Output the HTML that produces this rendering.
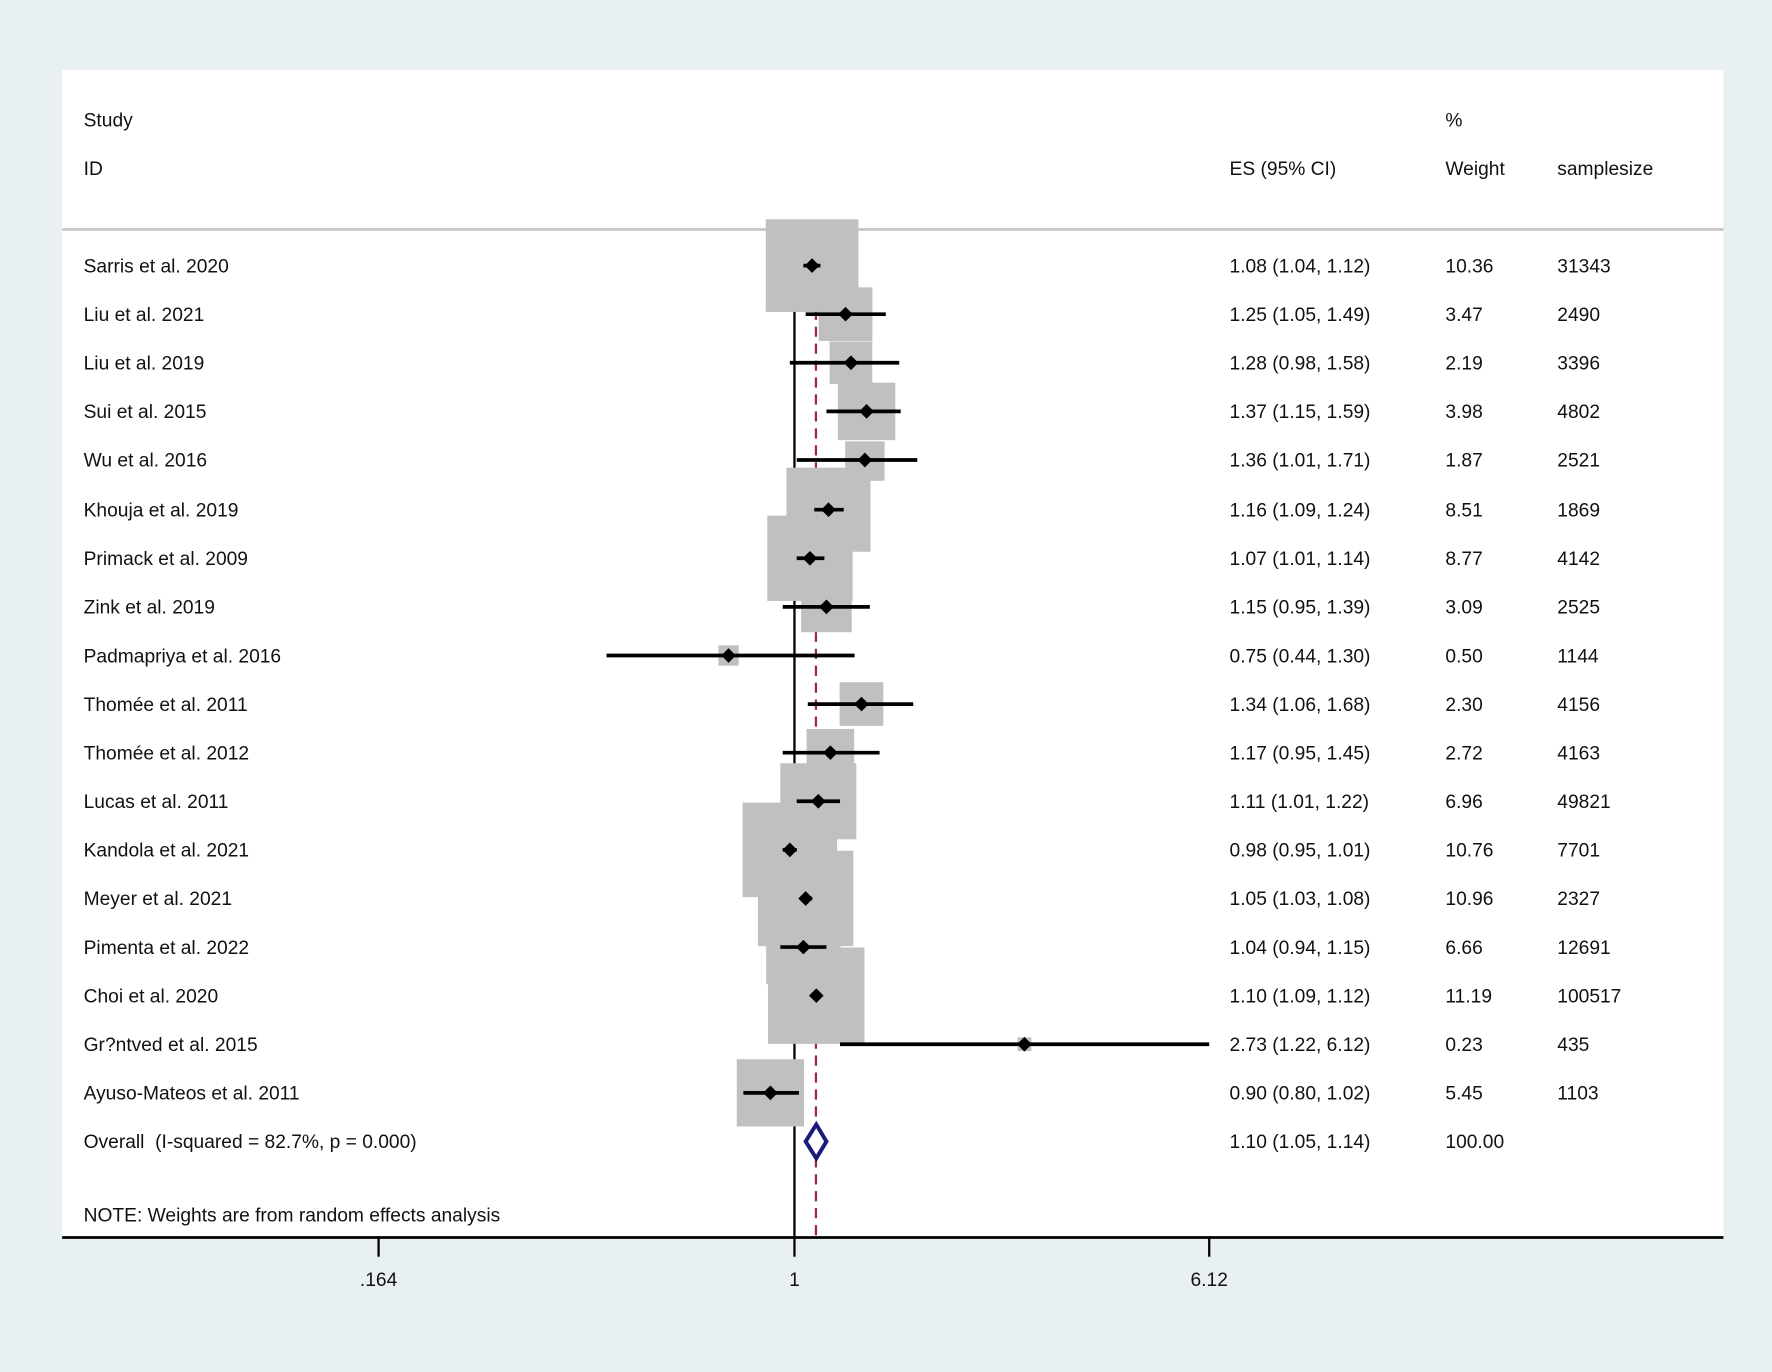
<!DOCTYPE html>
<html><head><style>html,body{margin:0;padding:0;background:#e9f0f3}svg{display:block}text{font-family:"Liberation Sans",Arial,sans-serif;font-size:17px;fill:#111}</style></head><body>
<svg width="1772" height="1372" viewBox="0 0 1568 1214" preserveAspectRatio="none" xmlns="http://www.w3.org/2000/svg">
<rect x="0" y="0" width="1568" height="1214" fill="#e9f0f3"/>
<rect x="55" y="62" width="1470" height="1033" fill="#ffffff"/>
<line x1="55" y1="203" x2="1525" y2="203" stroke="#c8c8c8" stroke-width="2.5"/>
<line x1="703" y1="214" x2="703" y2="1095" stroke="#000" stroke-width="2"/>
<line x1="722" y1="214" x2="722" y2="1095" stroke="#9b2a3e" stroke-width="2" stroke-dasharray="9,6"/>
<g fill="#c0c0c0">
<rect x="677.6" y="194" width="82" height="82"/>
<rect x="724.45" y="254.25" width="47.5" height="47.5"/>
<rect x="734.15" y="302.15" width="37.7" height="37.7"/>
<rect x="741.35" y="338.55" width="50.9" height="50.9"/>
<rect x="747.85" y="390.55" width="34.9" height="34.9"/>
<rect x="695.9" y="413.8" width="74.4" height="74.4"/>
<rect x="678.95" y="456.25" width="75.5" height="75.5"/>
<rect x="708.9" y="514.6" width="44.8" height="44.8"/>
<rect x="635.7" y="571" width="18" height="18"/>
<rect x="742.95" y="603.65" width="38.7" height="38.7"/>
<rect x="713.75" y="644.95" width="42.1" height="42.1"/>
<rect x="690.45" y="675.35" width="67.3" height="67.3"/>
<rect x="657.1" y="710.2" width="83.6" height="83.6"/>
<rect x="670.7" y="752.8" width="84.4" height="84.4"/>
<rect x="678" y="805.1" width="65.8" height="65.8"/>
<rect x="679.65" y="838.35" width="85.3" height="85.3"/>
<rect x="900.4" y="917.9" width="12.2" height="12.2"/>
<rect x="651.95" y="937.25" width="59.5" height="59.5"/>
</g>
<g stroke="#000" stroke-width="3.3">
<line x1="710.9" y1="235" x2="726" y2="235"/>
<line x1="712.9" y1="278" x2="783.8" y2="278"/>
<line x1="698.9" y1="321" x2="795.7" y2="321"/>
<line x1="731.3" y1="364" x2="797" y2="364"/>
<line x1="705" y1="407" x2="811.7" y2="407"/>
<line x1="720.5" y1="451" x2="746.6" y2="451"/>
<line x1="705" y1="494" x2="729.5" y2="494"/>
<line x1="692.6" y1="537" x2="769.7" y2="537"/>
<line x1="536.7" y1="580" x2="756.2" y2="580"/>
<line x1="714.8" y1="623" x2="808.1" y2="623"/>
<line x1="692.6" y1="666" x2="778.3" y2="666"/>
<line x1="705" y1="709" x2="743.3" y2="709"/>
<line x1="692.6" y1="752" x2="705" y2="752"/>
<line x1="709" y1="795" x2="718.6" y2="795"/>
<line x1="690.5" y1="838" x2="731.3" y2="838"/>
<line x1="720.5" y1="881" x2="726" y2="881"/>
<line x1="743.3" y1="924" x2="1070" y2="924"/>
<line x1="657.8" y1="967" x2="707" y2="967"/>
</g>
<g fill="#000">
<path d="M718.6 228.5l6.5 6.5-6.5 6.5-6.5-6.5z"/>
<path d="M748.2 271.5l6.5 6.5-6.5 6.5-6.5-6.5z"/>
<path d="M753 314.5l6.5 6.5-6.5 6.5-6.5-6.5z"/>
<path d="M766.8 357.5l6.5 6.5-6.5 6.5-6.5-6.5z"/>
<path d="M765.3 400.5l6.5 6.5-6.5 6.5-6.5-6.5z"/>
<path d="M733.1 444.5l6.5 6.5-6.5 6.5-6.5-6.5z"/>
<path d="M716.7 487.5l6.5 6.5-6.5 6.5-6.5-6.5z"/>
<path d="M731.3 530.5l6.5 6.5-6.5 6.5-6.5-6.5z"/>
<path d="M644.7 573.5l6.5 6.5-6.5 6.5-6.5-6.5z"/>
<path d="M762.3 616.5l6.5 6.5-6.5 6.5-6.5-6.5z"/>
<path d="M734.8 659.5l6.5 6.5-6.5 6.5-6.5-6.5z"/>
<path d="M724.1 702.5l6.5 6.5-6.5 6.5-6.5-6.5z"/>
<path d="M698.9 745.5l6.5 6.5-6.5 6.5-6.5-6.5z"/>
<path d="M712.9 788.5l6.5 6.5-6.5 6.5-6.5-6.5z"/>
<path d="M710.9 831.5l6.5 6.5-6.5 6.5-6.5-6.5z"/>
<path d="M722.3 874.5l6.5 6.5-6.5 6.5-6.5-6.5z"/>
<path d="M906.5 917.5l6.5 6.5-6.5 6.5-6.5-6.5z"/>
<path d="M681.7 960.5l6.5 6.5-6.5 6.5-6.5-6.5z"/>
</g>
<path d="M712.9 1010L722.3 995L731.3 1010L722.3 1025Z" fill="#fff" stroke="#1a1a7a" stroke-width="3.5"/>
<line x1="55" y1="1095" x2="1525" y2="1095" stroke="#000" stroke-width="2.5"/>
<g stroke="#000" stroke-width="2"><line x1="335" y1="1095" x2="335" y2="1112"/><line x1="703" y1="1095" x2="703" y2="1112"/><line x1="1070" y1="1095" x2="1070" y2="1112"/></g>
<g text-anchor="middle"><text x="335" y="1138">.164</text><text x="703" y="1138">1</text><text x="1070" y="1138">6.12</text></g>
<text x="74" y="112">Study</text><text x="74" y="155">ID</text>
<text x="1088" y="155">ES (95% CI)</text>
<text x="1279" y="112">%</text><text x="1279" y="155">Weight</text>
<text x="1378" y="155">samplesize</text>
<g>
<text x="74" y="241">Sarris et al. 2020</text><text x="1088" y="241">1.08 (1.04, 1.12)</text><text x="1279" y="241">10.36</text><text x="1378" y="241">31343</text>
<text x="74" y="284">Liu et al. 2021</text><text x="1088" y="284">1.25 (1.05, 1.49)</text><text x="1279" y="284">3.47</text><text x="1378" y="284">2490</text>
<text x="74" y="327">Liu et al. 2019</text><text x="1088" y="327">1.28 (0.98, 1.58)</text><text x="1279" y="327">2.19</text><text x="1378" y="327">3396</text>
<text x="74" y="370">Sui et al. 2015</text><text x="1088" y="370">1.37 (1.15, 1.59)</text><text x="1279" y="370">3.98</text><text x="1378" y="370">4802</text>
<text x="74" y="413">Wu et al. 2016</text><text x="1088" y="413">1.36 (1.01, 1.71)</text><text x="1279" y="413">1.87</text><text x="1378" y="413">2521</text>
<text x="74" y="457">Khouja et al. 2019</text><text x="1088" y="457">1.16 (1.09, 1.24)</text><text x="1279" y="457">8.51</text><text x="1378" y="457">1869</text>
<text x="74" y="500">Primack et al. 2009</text><text x="1088" y="500">1.07 (1.01, 1.14)</text><text x="1279" y="500">8.77</text><text x="1378" y="500">4142</text>
<text x="74" y="543">Zink et al. 2019</text><text x="1088" y="543">1.15 (0.95, 1.39)</text><text x="1279" y="543">3.09</text><text x="1378" y="543">2525</text>
<text x="74" y="586">Padmapriya et al. 2016</text><text x="1088" y="586">0.75 (0.44, 1.30)</text><text x="1279" y="586">0.50</text><text x="1378" y="586">1144</text>
<text x="74" y="629">Thomée et al. 2011</text><text x="1088" y="629">1.34 (1.06, 1.68)</text><text x="1279" y="629">2.30</text><text x="1378" y="629">4156</text>
<text x="74" y="672">Thomée et al. 2012</text><text x="1088" y="672">1.17 (0.95, 1.45)</text><text x="1279" y="672">2.72</text><text x="1378" y="672">4163</text>
<text x="74" y="715">Lucas et al. 2011</text><text x="1088" y="715">1.11 (1.01, 1.22)</text><text x="1279" y="715">6.96</text><text x="1378" y="715">49821</text>
<text x="74" y="758">Kandola et al. 2021</text><text x="1088" y="758">0.98 (0.95, 1.01)</text><text x="1279" y="758">10.76</text><text x="1378" y="758">7701</text>
<text x="74" y="801">Meyer et al. 2021</text><text x="1088" y="801">1.05 (1.03, 1.08)</text><text x="1279" y="801">10.96</text><text x="1378" y="801">2327</text>
<text x="74" y="844">Pimenta et al. 2022</text><text x="1088" y="844">1.04 (0.94, 1.15)</text><text x="1279" y="844">6.66</text><text x="1378" y="844">12691</text>
<text x="74" y="887">Choi et al. 2020</text><text x="1088" y="887">1.10 (1.09, 1.12)</text><text x="1279" y="887">11.19</text><text x="1378" y="887">100517</text>
<text x="74" y="930">Gr?ntved et al. 2015</text><text x="1088" y="930">2.73 (1.22, 6.12)</text><text x="1279" y="930">0.23</text><text x="1378" y="930">435</text>
<text x="74" y="973">Ayuso-Mateos et al. 2011</text><text x="1088" y="973">0.90 (0.80, 1.02)</text><text x="1279" y="973">5.45</text><text x="1378" y="973">1103</text>
<text x="74" y="1016" xml:space="preserve">Overall  (I-squared = 82.7%, p = 0.000)</text><text x="1088" y="1016">1.10 (1.05, 1.14)</text><text x="1279" y="1016">100.00</text>
<text x="74" y="1081">NOTE: Weights are from random effects analysis</text>
</g>
</svg>
</body></html>
